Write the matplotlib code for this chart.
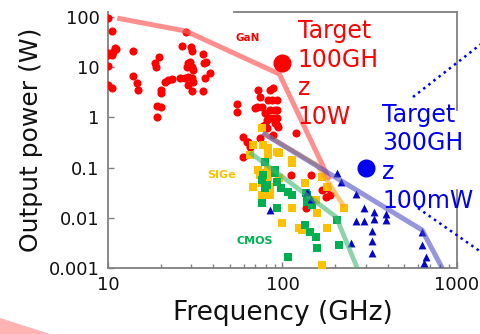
import matplotlib
matplotlib.use("Agg")
import matplotlib.pyplot as plt
from matplotlib.ticker import LogLocator, NullFormatter, FixedLocator, FixedFormatter
from matplotlib.patches import Polygon
from matplotlib.lines import Line2D

plt.rcParams['font.family'] = ['DejaVu Sans']

# ---------------- data ----------------
gan_f = [10, 10.5, 11.0, 10, 10, 10.5, 10.7, 11.1, 10, 10, 10.5,
         13.9, 13.9, 14.6, 14.8, 18.6, 18.8, 19.6, 19.1, 20.1, 19.1, 20.1, 20.1,
         21.2, 22.0, 23.2, 26.5, 27.9, 29.8, 30.2, 28.7, 29.4, 28.3, 30.2, 30.6,
         25.8, 27.5, 28.7, 30.2, 30.6, 28.7, 30.2, 34.9, 35.4, 36.3, 38.3, 35.8, 34.9,
         54.6, 54.6, 59.1, 59.1, 62.2,
         72, 73.9, 71, 75.9, 84.3, 87.7, 82.1, 86.5, 92.4, 78.9, 84.3, 90.0, 93.6,
         82.1, 87.7, 93.6, 78.9, 92.4, 94.8, 120, 64.8, 76.9, 69.2, 81, 90, 81,
         63.1, 73.9, 87.7,
         146, 181, 178, 137, 186, 169, 112]
gan_p = [95, 52, 24, 19, 17.5, 17.5, 20, 23, 10.6, 4.4, 3.9,
         21, 6.7, 4.8, 3.5, 12.1, 10.1, 16, 1.69, 1.61, 1.02, 3.5, 3.1,
         5.1, 5.6, 5.8, 26.4, 50, 25, 21, 12.1, 12.7, 10.1, 10.1, 8.8,
         6.1, 6.1, 6.4, 6.1, 5.1, 4.4, 3.4, 18.3, 12.1, 12.7, 7.7, 6.1, 3.4,
         1.85, 1.28, 0.41, 0.16, 0.32,
         3.5, 2.5, 1.61, 1.61, 3.5, 3.9, 2.2, 2.2, 2.2, 1.22, 1.40, 1.40, 1.40,
         0.97, 0.97, 0.97, 0.71, 0.71, 0.64, 0.49, 0.26, 0.67, 1.54, 0.89, 0.77, 0.62,
         0.32, 0.39, 0.45,
         0.071, 0.039, 0.026, 0.016, 0.028, 0.036, 0.071]

sige_f = [75.9, 67.5, 76.9, 82.1, 93.6, 64.8, 82.1, 72, 78.9, 82.1, 67.5, 84.3,
          96, 75.9, 84.3, 75.9, 100, 114, 125, 158, 181, 169, 82.1, 73.9, 114,
          156, 226, 181, 114, 134, 169, 96, 130]
sige_p = [0.62, 0.28, 0.28, 0.245, 0.205, 0.178, 0.178, 0.0895, 0.078, 0.09, 0.041, 0.041,
          0.062, 0.028, 0.028, 0.049, 0.0079, 0.0157, 0.0063, 0.0125, 0.0063, 0.00115, 0.065, 0.07, 0.124,
          0.0226, 0.0157, 0.041, 0.14, 0.049, 0.064, 0.2, 0.0057]

cmos_f = [78.9, 90, 75.9, 81, 92.4, 98.7, 78.9, 107, 114, 75.9, 93.6, 137, 148,
          134, 143, 156, 158, 107, 206, 211, 139, 90, 76.9, 139]
cmos_p = [0.13, 0.09, 0.057, 0.045, 0.052, 0.039, 0.039, 0.033, 0.028, 0.0197, 0.0157, 0.031, 0.018,
          0.0072, 0.0052, 0.0041, 0.0025, 0.00166, 0.009, 0.0029, 0.0207, 0.078, 0.07, 0.028]

inp_f = [206, 217, 265, 294, 336, 336, 294, 265, 393, 393, 326, 248, 326, 326,
         631, 631, 665, 650, 84.3, 146, 139]
inp_p = [0.078, 0.052, 0.030, 0.0157, 0.013, 0.0095, 0.0086, 0.0086, 0.0119, 0.009, 0.0055, 0.0031, 0.0035, 0.002,
         0.0052, 0.0029, 0.00166, 0.00126, 0.0143, 0.0237, 0.033]

gan_env_f = [11.3, 27.9, 96, 186]
gan_env_p = [95, 52.6, 7.3, 0.057]
sige_env_f = [77, 158, 226]
sige_env_p = [0.49, 0.112, 0.0164]
cmos_env_f = [65, 203, 268]
cmos_env_p = [0.2, 0.0104, 0.001]
inp_env_f = [77, 631, 822]
inp_env_p = [0.49, 0.0057, 0.001]

target_red = (100, 12)
target_blue = (300, 0.1)

x_ticks = [10, 100, 1000]
x_tick_labels = ['10', '100', '1000']
y_ticks = [0.001, 0.01, 0.1, 1, 10, 100]
y_tick_labels = ['0.001', '0.01', '0.1', '1', '10', '100']

# ---------------- figure ----------------
fig = plt.figure(figsize=(4.81, 3.34), dpi=100)
ax = fig.add_axes([0.2245, 0.1976, 0.7256, 0.7665])
ax.set_xscale('log')
ax.set_yscale('log')
ax.set_xlim(10, 1000)
ax.set_ylim(0.001, 126)

red = '#ff0000'
gold = '#ffc000'
green = '#00b050'
blue = '#0505c8'
blue_txt = '#0000ee'

ax.scatter(gan_f, gan_p, s=34, marker='o', color=red, linewidths=0, zorder=3)
ax.scatter(sige_f, sige_p, s=28, marker='s', color=gold, linewidths=0, zorder=3)
ax.scatter(cmos_f, cmos_p, s=28, marker='s', color=green, linewidths=0, zorder=3)
ax.scatter(inp_f, inp_p, s=32, marker='^', color=blue, linewidths=0, zorder=3)

ax.plot(gan_env_f, gan_env_p, color='#ff6060', alpha=0.7, lw=3.6, solid_capstyle='butt', zorder=4)
ax.plot(sige_env_f, sige_env_p, color='#ffa020', alpha=0.6, lw=3.4, solid_capstyle='butt', zorder=4)
ax.plot(cmos_env_f, cmos_env_p, color='#40b870', alpha=0.6, lw=3.4, solid_capstyle='butt', zorder=4)
ax.plot(inp_env_f, inp_env_p, color='#4040c0', alpha=0.55, lw=3.6, solid_capstyle='butt', zorder=4)

ax.plot([target_red[0]], [target_red[1]], 'o', color=red, ms=12, zorder=5)
ax.plot([target_blue[0]], [target_blue[1]], 'o', color=blue_txt, ms=12, zorder=5)

ax.text(63, 38, 'GaN', color=red, fontsize=7.5, fontweight='bold', ha='center', va='center', zorder=6)
ax.text(44.8, 0.071, 'SIGe', color=gold, fontsize=8, fontweight='bold', ha='center', va='center', zorder=6)
ax.text(69.2, 0.0034, 'CMOS', color=green, fontsize=8, fontweight='bold', ha='center', va='center', zorder=6)

ax.text(0.544, 0.972, 'Target\n100GH\nz\n10W', transform=ax.transAxes, color=red,
        fontsize=17, ha='left', va='top', linespacing=1.24, zorder=6, clip_on=False)
ax.text(0.785, 0.645, 'Target\n300GH\nz\n100mW', transform=ax.transAxes, color=blue_txt,
        fontsize=17, ha='left', va='top', linespacing=1.24, zorder=6, clip_on=False)

# spines
spine_c = '#808080'
for s in ['top', 'right']:
    ax.spines[s].set_visible(False)
for s in ['left', 'bottom']:
    ax.spines[s].set_color(spine_c)
    ax.spines[s].set_linewidth(1.3)
ax.add_line(Line2D([0.36, 1.0], [1.0, 1.0], transform=ax.transAxes, color=spine_c, lw=1.3, clip_on=False))
ax.add_line(Line2D([1.0, 1.0], [1.0, 0.617], transform=ax.transAxes, color=spine_c, lw=1.3, clip_on=False))
ax.add_line(Line2D([1.0, 1.0], [0.305, 0.0], transform=ax.transAxes, color=spine_c, lw=1.3, clip_on=False))

# dotted zoom lines (figure coords)
ax.add_line(Line2D([0.8586, 1.0], [0.7096, 0.868], transform=fig.transFigure, color=blue_txt,
                   lw=1.8, ls=(0, (1, 1.6)), clip_on=False, zorder=2))
ax.add_line(Line2D([0.869, 1.0], [0.377, 0.2455], transform=fig.transFigure, color=blue_txt,
                   lw=1.8, ls=(0, (1, 1.6)), clip_on=False, zorder=2))

# ticks
ax.xaxis.set_major_locator(FixedLocator(x_ticks))
ax.xaxis.set_major_formatter(FixedFormatter(x_tick_labels))
ax.xaxis.set_minor_locator(LogLocator(base=10, subs=range(2, 10)))
ax.xaxis.set_minor_formatter(NullFormatter())
ax.yaxis.set_major_locator(FixedLocator(y_ticks))
ax.yaxis.set_major_formatter(FixedFormatter(y_tick_labels))
ax.yaxis.set_minor_locator(FixedLocator([]))
ax.tick_params(axis='both', which='major', direction='in', length=4, width=1, color=spine_c,
               labelsize=13, labelcolor='#111111')
ax.tick_params(axis='x', which='major', pad=6)
ax.tick_params(axis='y', which='major', pad=6)
ax.tick_params(axis='x', which='minor', direction='in', length=3, width=1, color=spine_c)

ax.set_xlabel('Frequency (GHz)', fontsize=19, color='#111111', labelpad=4)
ax.set_ylabel('Output power (W)', fontsize=18, color='#111111', labelpad=4)

# pink wedge bottom-left
fig.patches.append(Polygon([[0, 0.048], [0.104, 0], [0, 0]], closed=True,
                           transform=fig.transFigure, facecolor='#ffb3b3', edgecolor='none'))

fig.savefig('out.png', dpi=100)
